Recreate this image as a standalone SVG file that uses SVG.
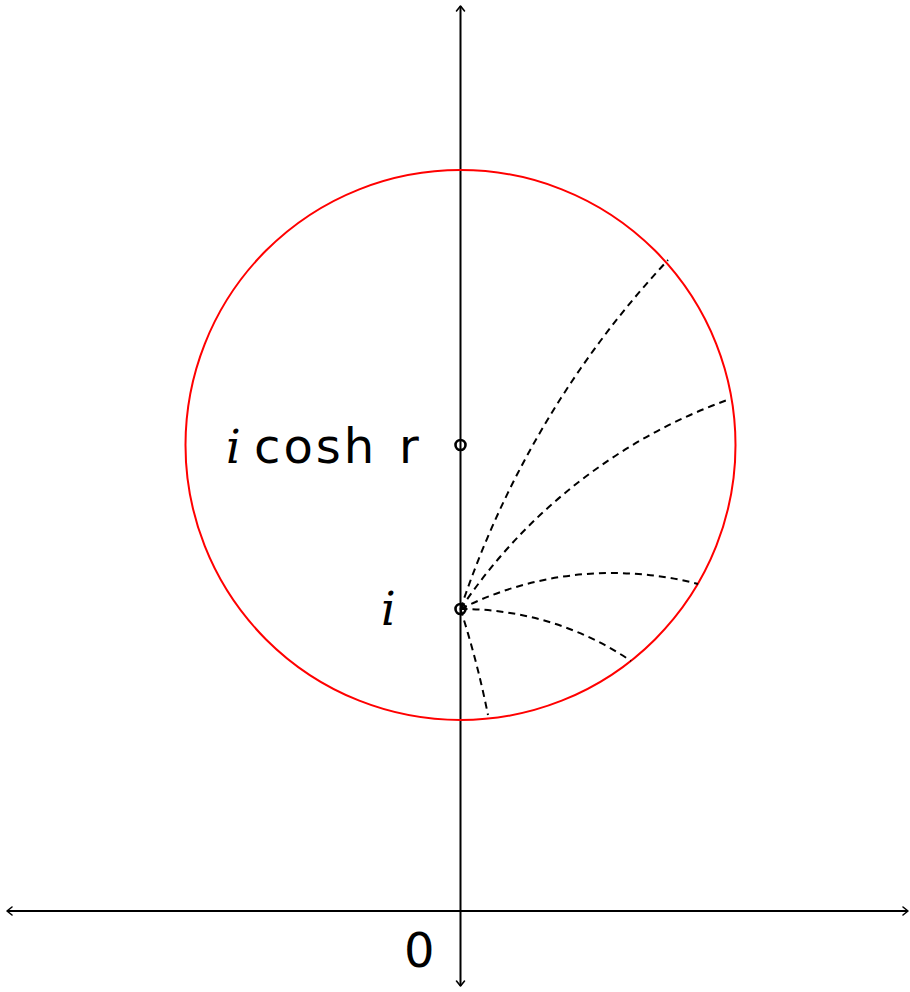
<svg xmlns="http://www.w3.org/2000/svg" width="910" height="992" viewBox="0 0 910 992">
<defs>
<style>
.axis{stroke:#000;stroke-width:2;fill:none}
.head{stroke:#000;stroke-width:1.6;fill:none;stroke-linecap:round;stroke-linejoin:round}
.geo{stroke:#000;stroke-width:2;fill:none;stroke-dasharray:7,5}
.circ{stroke:#ff0000;stroke-width:2;fill:none}
.pt{stroke:#000;stroke-width:2.6;fill:none}
.sans{font-family:"DejaVu Sans",sans-serif;font-size:48px;fill:#000}
.it{font-family:"DejaVu Serif","Liberation Serif",serif;font-style:italic;font-size:46px;fill:#000}
</style>
</defs>
<g id="axes">
<line class="axis" x1="460.5" y1="6" x2="460.5" y2="986"/>
<line class="axis" x1="7" y1="911" x2="908" y2="911"/>
<path class="head" d="M456.5,11 L460.5,6 L464.5,11"/>
<path class="head" d="M456.5,981 L460.5,986 L464.5,981"/>
<path class="head" d="M12,907 L7,911 L12,915"/>
<path class="head" d="M903,907 L908,911 L903,915"/>
</g>
<g id="circle">
<circle class="circ" cx="460.5" cy="445" r="275"/>
</g>
<g id="connectors">
<path class="geo" d="M460.5,609 A952.5,952.5 0 0 1 668,260"/>
<path class="geo" d="M460.5,609 A543.3,543.3 0 0 1 730,399"/>
<path class="geo" d="M460.5,609 A338.1,338.1 0 0 1 698,584"/>
<path class="geo" d="M460.5,609 A302,302 0 0 1 631,661"/>
<path class="geo" d="M460.5,609 A976.5,976.5 0 0 1 488,715"/>
</g>
<g id="point-center">
<circle class="pt" cx="460.5" cy="445" r="5"/>
</g>
<g id="point-i">
<circle class="pt" cx="460.5" cy="609" r="5"/>
</g>
<g id="label-cosh">
<text class="it" x="226" y="463">i</text>
<text class="sans" x="254" y="463" letter-spacing="3">cosh</text>
<text class="sans" x="399" y="463">r</text>
</g>
<g id="label-i">
<text class="it" x="381" y="625">i</text>
</g>
<g id="label-0">
<text class="sans" x="404" y="967">0</text>
</g>
</svg>
